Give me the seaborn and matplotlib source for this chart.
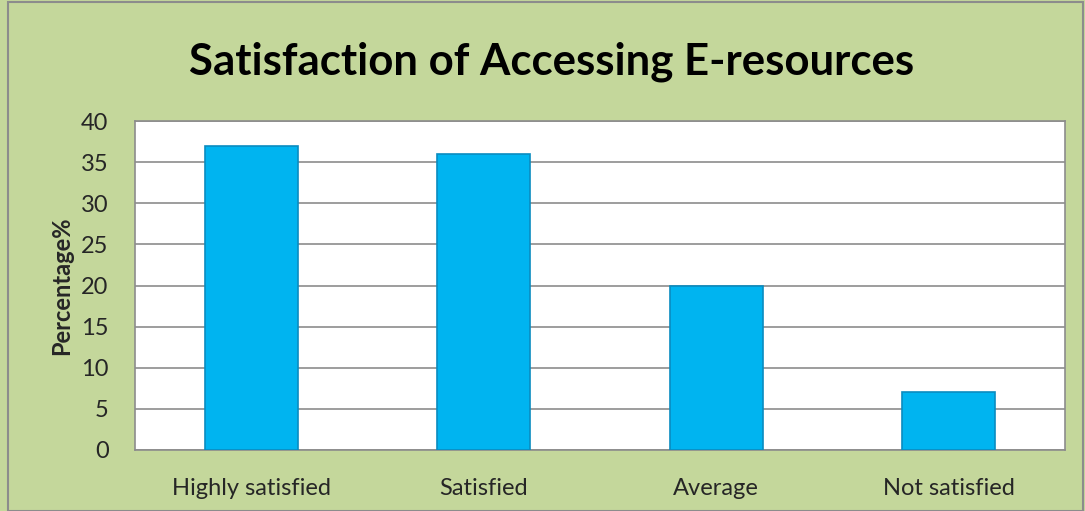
import matplotlib
matplotlib.use("Agg")
import matplotlib.pyplot as plt
import seaborn as sns
import pandas as pd
from matplotlib.patches import Rectangle

categories = ["Highly satisfied", "Satisfied", "Average", "Not satisfied"]
values = [37, 36, 20, 7]
yticks = [0, 5, 10, 15, 20, 25, 30, 35, 40]

sns.set_style("white")
plt.rcParams['font.family'] = ['Lato', 'DejaVu Sans']

bg = "#C4D79B"
fig = plt.figure(figsize=(10.85, 5.11), dpi=100, facecolor=bg)
ax = fig.add_axes([135/1085, 1-450/511, 930/1085, 329/511])
ax.set_facecolor("white")

df = pd.DataFrame({"cat": categories, "val": values})
sns.barplot(data=df, x="cat", y="val", ax=ax, color="#00B4F0", width=0.40,
            edgecolor="#0A8CC0", linewidth=1.2, saturation=1, zorder=3)

ax.set_ylim(0, 40)
ax.set_yticks(yticks)
ax.set_yticklabels([str(t) for t in yticks], fontsize=17)
ax.tick_params(axis='x', labelsize=17, length=0, pad=20)
ax.tick_params(axis='y', length=0, pad=19)
ax.yaxis.grid(True, color="#8C8C8C", linewidth=1.2, zorder=0)
ax.set_axisbelow(True)
for s in ax.spines.values():
    s.set_color("#8C8C8C")
    s.set_linewidth(1.2)
ax.set_xlabel("")
ax.set_ylabel("Percentage%", fontsize=17, fontweight="bold", labelpad=6)

fig.text(552/1085, 1-62/511, "Satisfaction of Accessing E-resources", ha="center", va="center",
         fontsize=31.5, fontweight="bold", color="black")

fig.patches.append(Rectangle((8/1085, 0), 1-8/1085-2/1085, 1-2/511, transform=fig.transFigure,
                             fill=False, edgecolor="#8C8C8C", linewidth=1.5))

fig.savefig("out.png", dpi=100, facecolor=bg)
